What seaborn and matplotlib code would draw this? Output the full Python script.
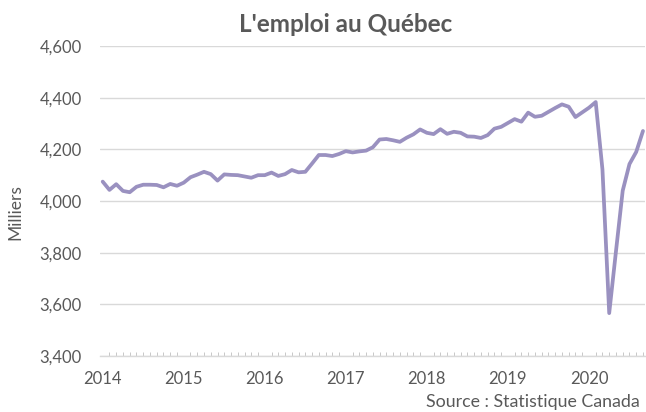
import numpy as np
import pandas as pd
import matplotlib
matplotlib.use("Agg")
import matplotlib.pyplot as plt
import seaborn as sns

# Monthly employment in Quebec (thousands), Jan 2014 - Sep 2020
emploi = [
    4075, 4043, 4065, 4039, 4034, 4055, 4063, 4063, 4062, 4053, 4066, 4059,  # 2014
    4071, 4092, 4102, 4113, 4104, 4079, 4103, 4101, 4100, 4095, 4090, 4100,  # 2015
    4100, 4110, 4097, 4104, 4120, 4111, 4113, 4145, 4178, 4178, 4174, 4182,  # 2016
    4193, 4188, 4192, 4195, 4208, 4238, 4240, 4235, 4229, 4245, 4258, 4277,  # 2017
    4264, 4259, 4278, 4260, 4268, 4264, 4250, 4249, 4244, 4255, 4280, 4287,  # 2018
    4302, 4317, 4307, 4342, 4326, 4330, 4345, 4360, 4374, 4365, 4325, 4343,  # 2019
    4361, 4383, 4122, 3566, 3805, 4040, 4143, 4190, 4271,                    # 2020
]
annees = ["2014", "2015", "2016", "2017", "2018", "2019", "2020"]
y_ticks = [3400, 3600, 3800, 4000, 4200, 4400, 4600]

df = pd.DataFrame({"mois": np.arange(len(emploi)), "emploi": emploi})

sns.set_theme(style="white")
plt.rcParams["font.family"] = ["Lato", "DejaVu Sans"]

fig = plt.figure(figsize=(6.46, 4.12), dpi=100)
ax = fig.add_axes([100 / 646, 1 - 356 / 412, 545 / 646, 310 / 412])

sns.lineplot(data=df, x="mois", y="emploi", ax=ax, color="#9a91c0", linewidth=2.7)

txt = "#595959"
ax.set_xlim(-0.4, 80.3)
ax.set_ylim(3400, 4600)
ax.set_yticks(y_ticks)
ax.set_yticklabels([f"{v:,}" for v in y_ticks], fontsize=12, color=txt)
ax.set_xticks([12 * i for i in range(len(annees))])
ax.set_xticklabels(annees, fontsize=12, color=txt)
ax.set_xticks(np.arange(0, 81), minor=True)
ax.tick_params(axis="x", which="major", length=0, pad=11)
ax.tick_params(axis="x", which="minor", direction="in", length=3, color="#bfbfbf", width=0.6, bottom=True)
ax.tick_params(axis="y", length=0, pad=13)

ax.grid(axis="y", color="#d9d9d9", linewidth=1)
for s in ["top", "right", "left"]:
    ax.spines[s].set_visible(False)
ax.spines["bottom"].set_color("#d9d9d9")
ax.spines["bottom"].set_linewidth(1)
ax.set_xlabel("")
ax.set_ylabel("")

fig.text(15 / 646, 1 - 212 / 412, "Milliers", ha="center", va="center", rotation=90,
         fontsize=12.5, color=txt)
fig.text(346 / 646, 1 - 25 / 412, "L'emploi au Québec", ha="center", va="center",
         fontsize=17.5, fontweight="bold", color=txt)
fig.text(640 / 646, 1 - 402 / 412, "Source : Statistique Canada", ha="right", va="center",
         fontsize=12.8, color=txt)

fig.savefig("out.png", dpi=100)
